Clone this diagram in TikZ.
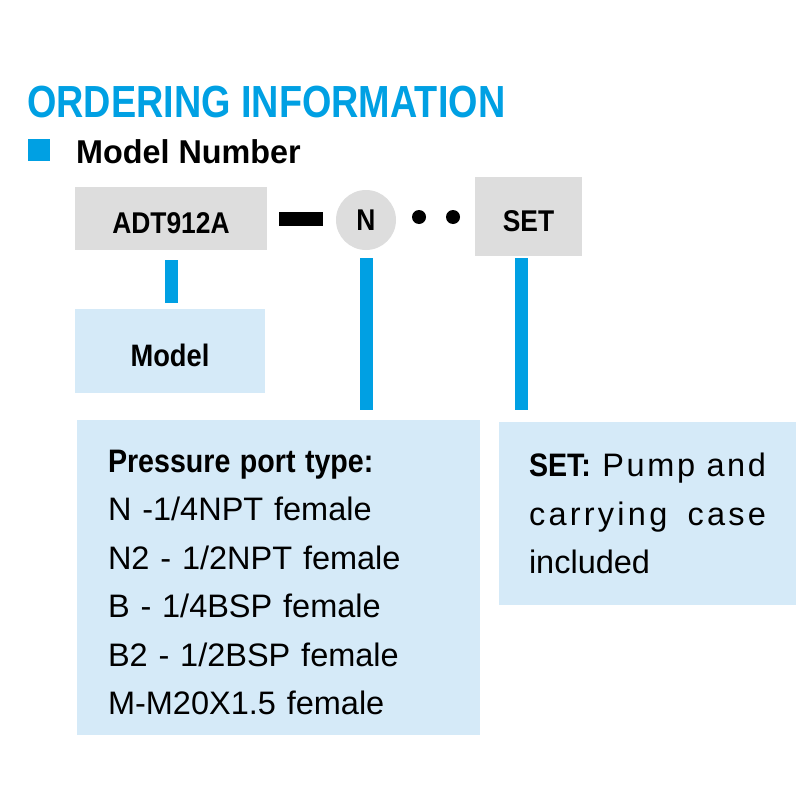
\documentclass[tikz,border=0pt]{standalone}
\usepackage{fontspec}
\setmainfont{Liberation Sans}
\newfontfamily\spacedfont[LetterSpace=8]{Liberation Sans}
\newfontfamily\widefont[LetterSpace=10]{Liberation Sans}
\usepackage{graphicx}
\usepackage{xcolor}

\definecolor{ordblue}{RGB}{0,160,227}
\definecolor{boxblue}{RGB}{213,234,248}
\definecolor{boxgrey}{RGB}{221,221,221}
\newcommand{\narrowbf}[1]{\scalebox{0.88}[1]{\bfseries #1}}

\tikzset{
  codebox/.style={fill=boxgrey, inner sep=0pt, text height=29pt, text depth=0pt,
    font=\fontsize{30}{36}\selectfont},
  infobox/.style={fill=boxblue, inner sep=0pt, font=\fontsize{32.5}{48.5}\selectfont},
  dot/.style={circle, fill=black, inner sep=0pt, minimum size=14pt},
  link/.style={ordblue, line width=13pt},
}

\begin{document}
\begin{tikzpicture}[x=1pt,y=-1pt]
\useasboundingbox (0,0) rectangle (800,800);

% heading
\node[anchor=base west, inner sep=0pt, text=ordblue, font=\fontsize{45}{54}\selectfont] (title) at (27,117)
  {\scalebox{0.84}[1]{\bfseries ORDERING INFORMATION}};
\node[fill=ordblue, inner sep=0pt, minimum size=22pt] (bullet) at (39,150) {};
\node[anchor=base west, inner sep=0pt, font=\fontsize{33}{40}\selectfont] (modnum) at (76,163)
  {\scalebox{0.98}[1]{\bfseries Model Number}};

% code line
\node[codebox, minimum width=192pt, minimum height=63pt] (adt) at (171,218.5) {\narrowbf{ADT912A}};
\node[fill=black, inner sep=0pt, minimum width=44pt, minimum height=14pt] (dash) at (301,219) {};
\node[circle, fill=boxgrey, inner sep=0pt, minimum size=60pt, font=\fontsize{30}{36}\selectfont] (ncirc) at (366,220) {\narrowbf{N}};
\node[dot] (dot1) at (419,217) {};
\node[dot] (dot2) at (453,217) {};
\node[codebox, minimum width=107pt, minimum height=79pt] (setb) at (528.5,216.5) {\narrowbf{SET}\hspace{12pt}};

% explanations
\node[infobox, minimum width=190pt, minimum height=84pt, text height=31pt, text depth=0pt,
  font=\fontsize{31}{40}\selectfont] (modelb) at (170,351) {\narrowbf{Model}};
\node[infobox, minimum width=403pt, minimum height=315pt, text width=341pt, align=left] (portb) at (278.5,577.5)
  {\rule{0pt}{32pt}\narrowbf{Pressure port type:}\\
   N -1/4NPT female\\
   N2 - 1/2NPT female\\
   B - 1/4BSP female\\
   B2 - 1/2BSP female\\
   M-M20X1.5 female};
\node[infobox, minimum width=297pt, minimum height=183pt, text width=237pt, align=left] (setinfo) at (647.5,513.5)
  {\makebox[237pt][l]{\narrowbf{SET:}\hfill{\spacedfont Pump}\hfill{\spacedfont and}}\\
   \makebox[237pt][l]{{\widefont carrying}\hfill{\widefont case}}\\
   included};

% connectors
\coordinate (adtTop) at ([yshift=-10pt]adt.south);
\coordinate (adtEnd) at ([yshift=6pt]modelb.north);
\draw[link] (adtTop) -- (adtTop |- adtEnd);
\coordinate (nTop) at ([yshift=-8pt]ncirc.south);
\coordinate (nEnd) at ([yshift=10pt]portb.north);
\draw[link] (nTop) -- (nTop |- nEnd);
\coordinate (setTop) at ([xshift=-7.5pt,yshift=-2pt]setb.south);
\coordinate (setEnd) at ([yshift=12pt]setinfo.north);
\draw[link] (setTop) -- (setTop |- setEnd);
\end{tikzpicture}
\end{document}
